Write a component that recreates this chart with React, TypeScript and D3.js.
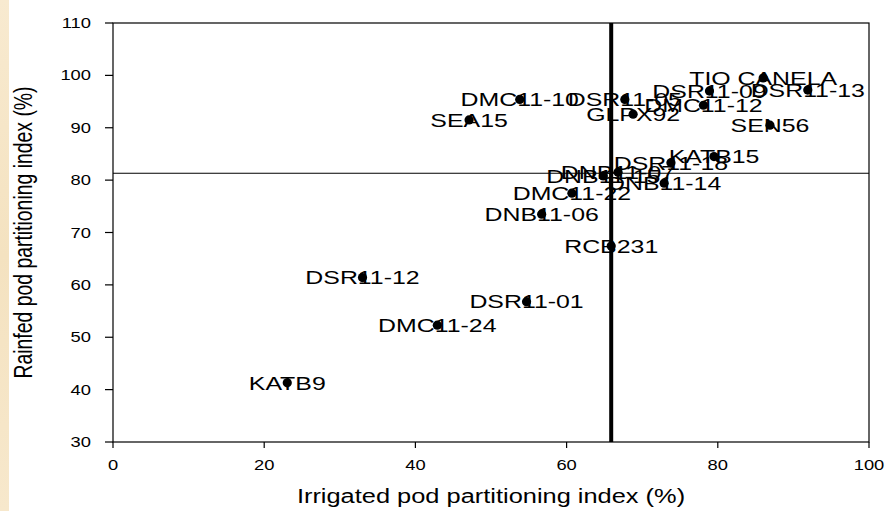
import React from "react";
import * as d3 from "d3";

const genotypes = [
  "TIO CANELA", "DSR11-13", "DSR11-09", "DMC11-12", "DMC11-10", "DSR11-05",
  "GLPX92", "SEA15", "SEN56", "DSR11-18", "KATB15", "DNB11-07", "DNB11-15",
  "DNB11-14", "DMC11-22", "DNB11-06", "RCB231", "DSR11-12", "DSR11-01",
  "DMC11-24", "KATB9",
];
const irrigated = [
  86.0, 91.9, 78.9, 78.1, 53.8, 67.7, 68.8, 47.1, 86.9, 73.8, 79.5, 66.8, 64.85,
  72.9, 60.7, 56.7, 65.9, 33.0, 54.7, 42.9, 23.05,
];
const rainfed = [
  99.5, 97.2, 97.0, 94.3, 95.4, 95.4, 92.6, 91.5, 90.5, 83.3, 84.5, 81.5, 80.8,
  79.4, 77.5, 73.5, 67.4, 61.4, 56.8, 52.3, 41.3,
];
const meanIrrigated = 65.9;
const meanRainfed = 81.3;
const xTicks = [0, 20, 40, 60, 80, 100];
const yTicks = [30, 40, 50, 60, 70, 80, 90, 100, 110];
const xTitle = "Irrigated pod partitioning index (%)";
const yTitle = "Rainfed pod partitioning index (%)";

const W = 891;
const H = 511;
const L = 113, R = 869, T = 23, B = 442;
const SX = 1.31;
const FONT = "'Liberation Sans', Arial, Helvetica, sans-serif";

export default function App() {
  const x = d3.scaleLinear().domain([0, 100]).range([L, R]);
  const y = d3.scaleLinear().domain([30, 110]).range([B, T]);
  const pts = genotypes.map((g, i) => ({ g, xi: irrigated[i], yr: rainfed[i] }));
  const labelSize = 19;
  const tickSize = 14;
  const titleSize = 19.4;
  return (
    <div style={{ position: "absolute", left: 0, top: 0, width: W, height: H, background: "#fff" }}>
      <svg width={W} height={H} style={{ display: "block" }} fontFamily={FONT}>
        <defs>
          <linearGradient id="strip" x1="0" y1="0" x2="0" y2="1">
            <stop offset="0" stopColor="#f8ead0" />
            <stop offset="0.5" stopColor="#f4e2c0" />
            <stop offset="1" stopColor="#f7e8cc" />
          </linearGradient>
        </defs>
        <rect x={0} y={0} width={W} height={H} fill="#fff" />
        <rect x={0} y={0} width={9} height={H} fill="url(#strip)" />

        {/* plot frame */}
        <rect x={L} y={T} width={R - L} height={B - T} fill="none" stroke="#000" strokeWidth={1.2} />

        {/* y ticks */}
        {yTicks.map((v) => (
          <g key={"yt" + v}>
            <line x1={L - 8} x2={L} y1={y(v)} y2={y(v)} stroke="#000" strokeWidth={1.2} />
            <text
              transform={`translate(${L - 22},${y(v) + tickSize * 0.36}) scale(${SX},1)`}
              textAnchor="end"
              fontSize={tickSize}
              fill="#000"
            >
              {v}
            </text>
          </g>
        ))}
        {/* x ticks */}
        {xTicks.map((v) => (
          <g key={"xt" + v}>
            <line x1={x(v)} x2={x(v)} y1={B} y2={B + 6} stroke="#000" strokeWidth={1.2} />
            <text
              transform={`translate(${x(v)},${B + 28}) scale(${SX},1)`}
              textAnchor="middle"
              fontSize={tickSize}
              fill="#000"
            >
              {v}
            </text>
          </g>
        ))}

        {/* mean lines */}
        <line x1={L} x2={R} y1={y(meanRainfed)} y2={y(meanRainfed)} stroke="#000" strokeWidth={1.1} />
        <line x1={x(meanIrrigated)} x2={x(meanIrrigated)} y1={T} y2={B} stroke="#000" strokeWidth={4} />

        {/* labels */}
        {pts.map((p) => (
          <text
            key={"lb" + p.g}
            transform={`translate(${x(p.xi)},${y(p.yr) + labelSize * 0.36}) scale(${SX},1)`}
            textAnchor="middle"
            fontSize={labelSize}
            fill="#000"
          >
            {p.g}
          </text>
        ))}
        {/* points */}
        {pts.map((p) => (
          <circle key={"pt" + p.g} cx={x(p.xi)} cy={y(p.yr)} r={4.6} fill="#000" />
        ))}

        {/* titles */}
        <text
          transform={`translate(${(L + R) / 2},503) scale(${SX},1)`}
          textAnchor="middle"
          fontSize={titleSize}
          fill="#000"
        >
          {xTitle}
        </text>
        <text
          transform={`translate(31.5,${(T + B) / 2}) scale(${SX},1) rotate(-90)`}
          textAnchor="middle"
          fontSize={titleSize}
          fill="#000"
        >
          {yTitle}
        </text>
      </svg>
    </div>
  );
}
